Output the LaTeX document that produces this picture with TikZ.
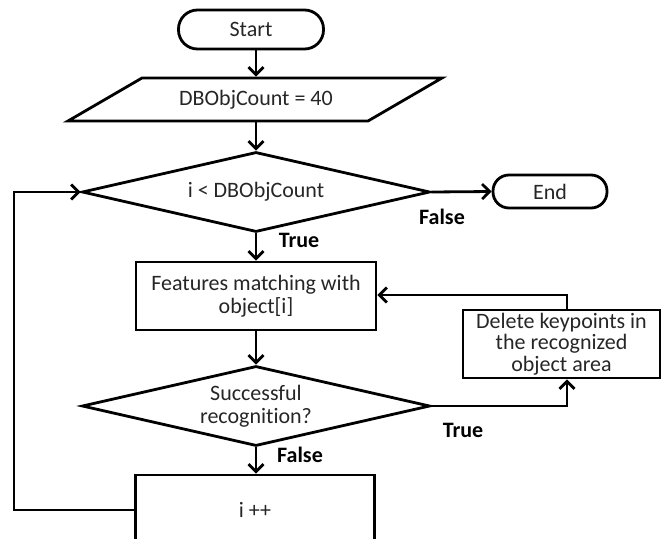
\documentclass[tikz,border=0pt]{standalone}
\usepackage{fontspec}
\setmainfont{Carlito}[Ligatures=CommonOff]
\usetikzlibrary{arrows.meta,shapes.geometric,calc}
\begin{document}
\begin{tikzpicture}[x=1pt,y=-1pt,
  line width=2.8pt,
  every node/.style={font=\fontsize{22}{23}\selectfont, text=black!85},
  term/.style={draw, rectangle, rounded corners=#1, inner sep=0pt, align=center},
  box/.style={draw, rectangle, inner sep=0pt, align=center},
  dec/.style={draw, diamond, aspect=4.35, minimum width=348pt, minimum height=80pt, inner sep=0pt, align=center},
  lab/.style={font=\fontsize{22}{24}\selectfont\bfseries, text=black},
  arr/.style={-{Straight Barb[length=7.5pt,width=15pt]}},
]
\useasboundingbox (0,0) rectangle (661,538);
\clip (0,0) rectangle (661,538);

% start
\node[term=19pt, minimum width=145pt, minimum height=39pt] (start) at (251,29.5) {Start};

% parallelogram
\draw (142,78) -- (442,78) -- (368,121) -- (68,121) -- cycle;
\node[minimum width=300pt, minimum height=43pt, inner sep=0pt, outer sep=1.4pt] (para) at (256,99.5) {DBObjCount = 40};

% decision 1
\node[dec] (d1) at (256,192) {i < DBObjCount};
\node[term=16pt, minimum width=114pt, minimum height=33pt] (end) at (550,191.5) {End};
\node[lab] (f1) at (442,217) {False};
\node[lab] (t1) at (299,240) {True};

% features
\node[box, minimum width=240pt, minimum height=68pt] (feat) at (256,296) {Features matching with\\object[i]};

% delete
\node[box, minimum width=197pt, minimum height=68pt, font=\fontsize{22}{21.5}\selectfont] (del) at (561.5,344) {Delete keypoints in\\the recognized\\object area};
\coordinate (j1) at (567,295);

% decision 2
\node[dec] (d2) at (256,406) {Successful\\recognition?};
\node[lab] (t2) at (463,430) {True};
\node[lab] (f2) at (300,455) {False};

% i++
\node[box, minimum width=239pt, minimum height=70pt] (ipp) at (255,510) {i ++};
\coordinate (j2) at (14,510);

% connectors
\draw[arr] (start.south -| para.north) -- (para.north);
\draw[arr] (para.south) -- (d1.north);
\draw[arr] (d1.east) -- (end.west);
\draw[arr] (d1.south) -- (feat.north);
\draw[arr] (feat.south) -- (d2.north);
\draw[arr] (d2.east) -| (del.south -| j1);
\draw[arr] (del.north -| j1) -- (j1) -- (j1 -| feat.east);
\draw[arr] (d2.south) -- (ipp.north -| d2.south);
\draw[arr] (ipp.west) -- (j2) |- (d1.west);
\end{tikzpicture}
\end{document}
